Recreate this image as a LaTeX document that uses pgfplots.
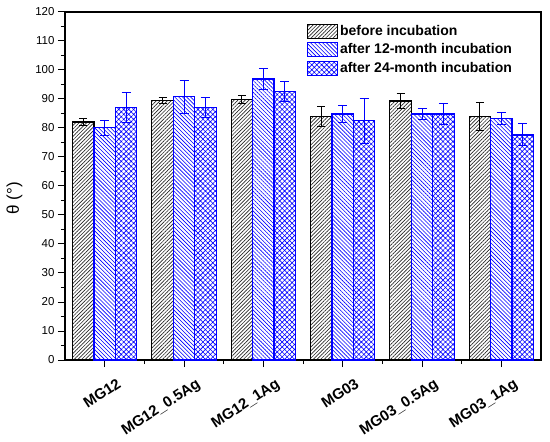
\documentclass[border=0pt]{standalone}
\usepackage{fontspec}
\setmainfont{Liberation Sans}
\usepackage{pgfplots}
\pgfplotsset{compat=1.18}
\usetikzlibrary{patterns.meta}
\pgfplotstableread{
x y e
0 82.1 1.3
1 89.4 1.1
2 89.8 1.4
3 83.9 3.4
4 89.3 2.5
5 83.9 4.8
}\before
\pgfplotstableread{
x y e
0 80.1 2.6
1 90.8 5.7
2 96.9 3.7
3 84.8 2.8
4 84.8 1.9
5 83.3 2.1
}\twelve
\pgfplotstableread{
x y e
0 87.1 5.2
1 87.0 3.4
2 92.5 3.4
3 82.5 7.7
4 84.8 3.6
5 77.6 3.8
}\twentyfour
\begin{document}
\begin{tikzpicture}
\begin{axis}[name=ax, at={(0,0)}, anchor=south west,
  width=476pt, height=348pt, scale only axis,
  xmin=-0.5, xmax=5.5, ymin=0, ymax=120,
  ybar=0pt, bar width=0.27,
  axis line style={line width=1.2pt},
  xtick={0,...,5},
  xticklabels={MG12,MG12\_0.5Ag,MG12\_1Ag,MG03,MG03\_0.5Ag,MG03\_1Ag},
  minor xtick={0.5,1.5,2.5,3.5,4.5},
  ytick={0,10,...,120}, minor ytick={5,15,...,115},
  xtick pos=bottom, ytick pos=left,
  tick align=outside,
  major tick length=7pt, minor tick length=4pt,
  tick style={line width=1pt, black},
  /pgf/number format/assume math mode=true,
  yticklabel style={font=\fontsize{11.5}{12}\selectfont},
  xticklabel style={font=\bfseries\fontsize{15}{15}\selectfont, rotate=33, anchor=north east, inner sep=1pt, yshift=-14pt, xshift=5pt},
  ylabel={θ (°)},
  ylabel style={font=\fontsize{17}{17}\selectfont, at={(axis description cs:-0.106,0.465)}, anchor=center},
  legend style={at={(0.508,0.968)}, anchor=north west, draw=none, fill=none,
     font=\bfseries\fontsize{14}{14}\selectfont, row sep=2.8pt, inner sep=0pt},
  legend cell align=left,
  legend image code/.code={\draw[#1,line width=1pt] (0pt,-7pt) rectangle (30pt,7pt);},
  error bars/y dir=both, error bars/y explicit,
]
\addplot[draw=black, line width=1.2pt, fill=white, postaction={pattern={Lines[angle=45,distance=2.6pt,line width=0.65pt]}, pattern color=black!85},
  error bars/error mark options={rotate=90, mark size=4pt, line width=1pt, black},
  error bars/error bar style={line width=1pt, black}]
  table[x=x, y=y, y error=e]{\before};
\addplot[draw=blue, line width=1.2pt, fill=white, postaction={pattern={Lines[angle=-45,distance=2.8pt,line width=0.6pt]}, pattern color=blue},
  error bars/error mark options={rotate=90, mark size=4.5pt, line width=1pt, blue},
  error bars/error bar style={line width=1pt, blue}]
  table[x=x, y=y, y error=e]{\twelve};
\addplot[draw=blue, line width=1.2pt, fill=white, postaction={pattern={Hatch[angle=45,distance=3.5pt,line width=0.6pt]}, pattern color=blue},
  error bars/error mark options={rotate=90, mark size=4.5pt, line width=1pt, blue},
  error bars/error bar style={line width=1pt, blue}]
  table[x=x, y=y, y error=e]{\twentyfour};
\legend{before incubation, after 12-month incubation, after 24-month incubation}
\end{axis}
\begin{axis}[at={(0,0)}, anchor=south west,
  width=476pt, height=348pt, scale only axis,
  xmin=-0.5, xmax=5.5, ymin=0, ymax=120,
  axis lines=none, axis line style={draw=none},
  xtick=\empty,
  ytick={0,10,...,120}, minor ytick={5,15,...,115},
  ytick pos=right, tick align=inside, yticklabels={},
  major tick length=7pt, minor tick length=4pt,
  tick style={line width=1pt, black}]
\end{axis}
\pgfresetboundingbox
\path ([xshift=-65pt,yshift=-81pt]ax.south west) rectangle ([xshift=9pt,yshift=12pt]ax.north east);
\end{tikzpicture}
\end{document}
